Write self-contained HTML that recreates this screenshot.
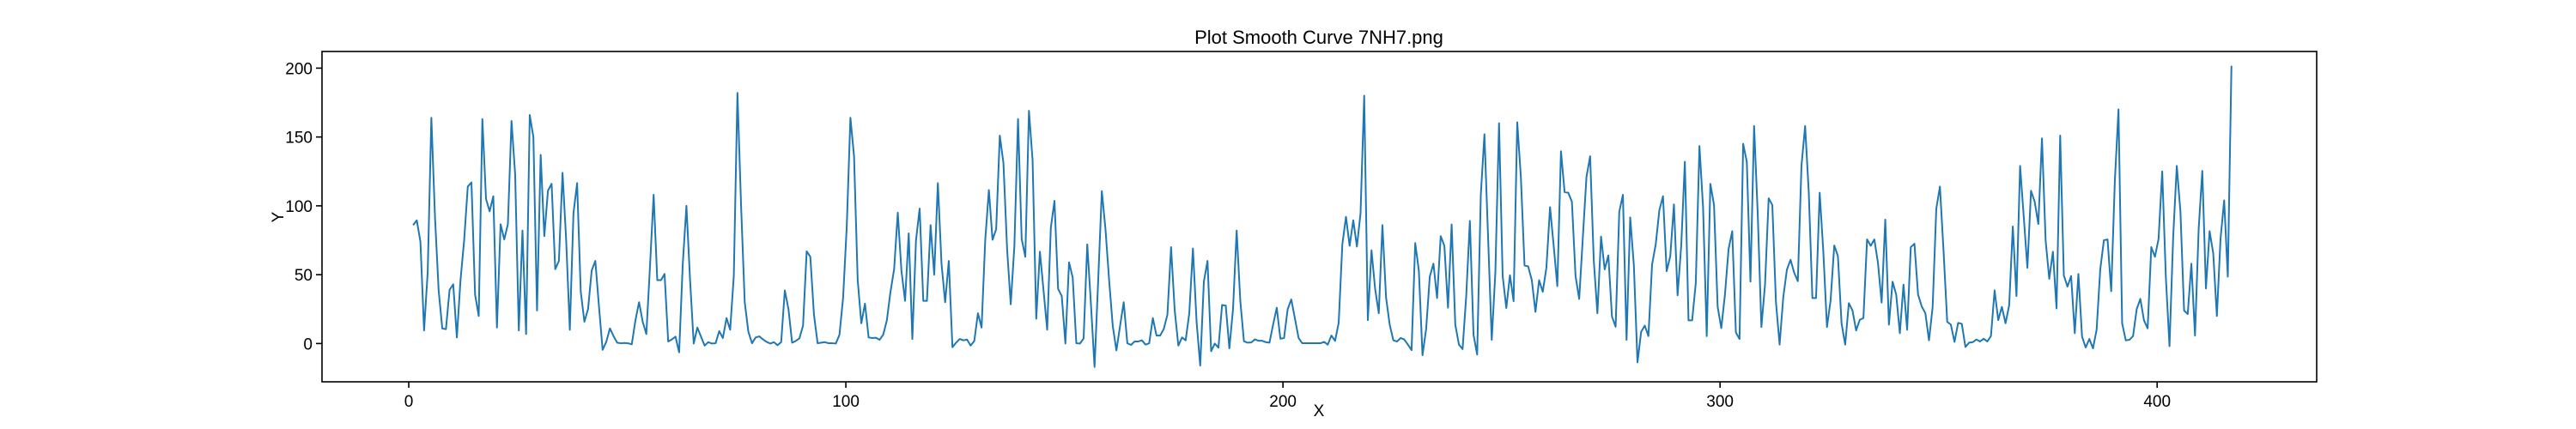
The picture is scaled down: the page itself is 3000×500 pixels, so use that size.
<!DOCTYPE html>
<html><head><meta charset="utf-8"><title>Plot Smooth Curve 7NH7.png</title>
<style>html,body{margin:0;padding:0;background:#fff;}svg{display:block;font-family:"Liberation Sans","DejaVu Sans",sans-serif;}</style>
</head><body>
<svg id="chart" width="3000" height="500" viewBox="0 0 3000 500" xmlns="http://www.w3.org/2000/svg">
<rect x="0" y="0" width="3000" height="500" fill="#fff"/>
<text x="1536" y="51" font-size="22" text-anchor="middle">Plot Smooth Curve 7NH7.png</text>
<g id="plot"></g>
<text x="1536" y="485" font-size="19" text-anchor="middle">X</text>
<text x="330" y="253" font-size="19" text-anchor="middle" transform="rotate(-90 330 253)">Y</text>
</svg>
<script>
const xStart = 1;
const xEnd = 417;
const xTicks = [0, 100, 200, 300, 400];
const yTicks = [0, 50, 100, 150, 200];
const yValues = [
86,89.5,74,9.5,52,164,91.6,38.6,11,10.4,39,43,4.4,46,75,114,117,35.5,20,163,105,96,107,11.6,86.6,75.6,86.6,161.6,122.7,9.5,82,6.9,166,150,24,137,78,111,116,54,60,124,75,10,94.7,116.5,37.6,15.8,25,53,60,27,-4.6,1.2,11,5.4,0.6,0.2,0.4,0.2,-0.6,16.8,30,15.8,6.9,56,108,46,46,50.5,1.5,3,5,-6.4,58,100,46,0,11.6,5,-1.5,1,0,
0.2,9,4,18.5,10,49,182,100,30,8.5,0.2,4.4,5.2,3,1.2,0,1,-1.2,1,38.6,25,0.6,1.9,3.7,13,67,63,21,0.2,0.6,1,0.2,0.2,0,6.4,33.4,85,164,136,46,14.7,29,4.4,4,4.2,2.7,6.4,16.8,37.6,54,95,53,31,80,3.3,75,98,31,31,86,50,116.5,58,30,60,-2.7,0.6,3.3,2.3,2.9,-1.5,1.9,22,11.6,75,111.5,75.4,83,151,131,68.7,28.5,70.8,163,76,
63,169,133,18,66.7,38.6,10,84,103.6,39.7,34.5,0,59,48,0.2,0,3.7,72,29,-17,46,110.7,83,46,12.7,-5,12.7,30,0.2,-1,1.5,1.5,2.3,-0.8,0.2,18.5,5.8,5.8,10.6,21,70,24,-1.5,4.4,2.3,22,69,15.8,-16,45,60,-5.6,0,-3,28,27.6,-3.5,25,82,31,1.7,0.6,0.8,3,2,2,1,0.6,13.7,26,3.5,4,25,32,18,4,0.2,0.2,0.2,0.2,0.2,0.2,1.2,-0.8,5.8,
1.9,15,72,92,71,89.5,70.4,94.7,180,17,67.7,39.7,22,86,33.4,13.7,2.3,1.5,4,2.9,-0.8,-4.8,73,53,-8.5,10.6,48.6,58,33,78,71,26,86.5,13.7,-0.8,-4,34.5,89,6.4,-8,108,152,77,2.7,52,160,49,25.8,49.6,30.7,160.7,120.7,56.7,56,46,23,46,37.6,55,99,71,41.7,139.7,110,109.5,103,49,32.4,77,121,136,60.4,22,77.7,53.8,64,19.5,12.2,95.7,108,2.7,91.6,57,-13.7,8.5,
13,5.4,57.3,72,96.8,107,52.5,63.5,101,35,71,132,16.8,16.8,44,143.5,98.7,5.4,116,100.6,26.6,11.2,35.5,68.7,81.6,8,3.3,145,132,45,158,94,12,42.8,105.5,100.6,30,-0.8,33.4,53.6,60.8,51.5,45.3,129,158,110,33,33,109.5,66.7,12,31.4,71.2,63.5,14.7,-0.8,29.3,24,9.5,17.2,18.5,75.6,71,75.6,58.4,29.7,90,13.7,44.9,35.5,7.5,42.8,10,70,72.5,35.5,27,22,2.3,26.6,98,114,66.7,15.8,13.7,
1.2,15,14.3,-2.5,0.6,1,2.9,1.5,3.5,1.5,5.4,38.6,17,26.6,14.7,27.8,85,34.5,129,92,55,110.9,103,86.8,149,75,47,66.7,25.5,151,49.4,41.3,49,7.5,50.5,5,-2.9,3.3,-3.5,10,54,75,75.6,38,118,170,14.7,2.3,2.7,5.4,25,32.4,16.8,11,70,63,76,125,48,-1.9,77,129,95.7,24,21.4,58,5.8,83,125.4,40,81.6,65.6,20,76,104,48.6,201.7
];

const NS = 'http://www.w3.org/2000/svg';
const L = 375, R = 2698, T = 60, B = 445;
const xMin = -19.85, xMax = 436.5, yMin = -27.8, yMax = 212.1;
function sx(v){ return L + (v - xMin) / (xMax - xMin) * (R - L); }
function sy(v){ return B - (v - yMin) / (yMax - yMin) * (B - T); }
const plot = document.getElementById('plot');
function mk(tag, attrs){ const e = document.createElementNS(NS, tag); for (const k in attrs) e.setAttribute(k, attrs[k]); return e; }

const n = yValues.length;
let d = '';
for (let i = 0; i < n; i++) {
  const xv = xStart + i * (xEnd - xStart) / (n - 1);
  d += (i ? 'L' : 'M') + sx(xv).toFixed(2) + ',' + sy(yValues[i]).toFixed(2);
}
const line = mk('path', {d: d, fill: 'none', stroke: '#1f77b4', 'stroke-width': '2', 'stroke-linejoin': 'round'});


plot.appendChild(line);

const frame = mk('rect', {x: L, y: T, width: R - L, height: B - T, fill: 'none', stroke: '#000', 'stroke-width': '1.6'});


plot.appendChild(frame);

xTicks.forEach(function(t){
  const x = sx(t);
  const tk = mk('line', {x1: x, y1: B, x2: x, y2: B + 7, stroke: '#000', 'stroke-width': '1.6'});
  
  
  plot.appendChild(tk);
  const lb = mk('text', {x: x, y: B + 29, 'font-size': '19', 'text-anchor': 'middle'});
  
  
  lb.textContent = String(t);
  plot.appendChild(lb);
});
yTicks.forEach(function(t){
  const y = sy(t);
  const tk = mk('line', {x1: L - 7, y1: y, x2: L, y2: y, stroke: '#000', 'stroke-width': '1.6'});
  
  
  plot.appendChild(tk);
  const lb = mk('text', {x: L - 11, y: y + 7, 'font-size': '19', 'text-anchor': 'end'});
  
  
  lb.textContent = String(t);
  plot.appendChild(lb);
});
</script>
</body></html>
